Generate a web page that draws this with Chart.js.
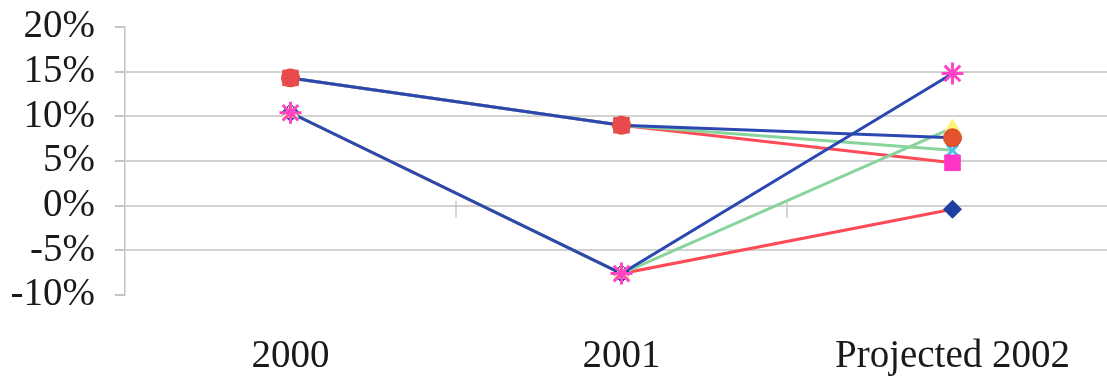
<!DOCTYPE html>
<html>
<head>
<meta charset="utf-8">
<script src="https://cdn.jsdelivr.net/npm/chart.js@4/dist/chart.umd.min.js"></script>
<style>
  html, body { margin: 0; padding: 0; background: #fff; overflow: hidden; }
  #chart { display: block; }
</style>
</head>
<body>
<canvas id="chart" width="1118" height="381"></canvas>
<script>
// Categories and growth rates (percent)
const categories = ['2000', '2001', 'Projected 2002'];

const seriesDiamond  = [10.4, -7.6, -0.4];
const seriesSquare   = [14.3,  9.0,  4.8];
const seriesTriangle = [10.4, -7.6,  8.7];
const seriesCross    = [14.3,  9.0,  6.2];
const seriesStar     = [10.4, -7.6, 14.8];
const seriesCircle   = [14.3,  9.0,  7.6];

const yTicks = [-10, -5, 0, 5, 10, 15, 20];

const BLUE = '#2a47b2';
const GREEN = '#88d49c';
const RED = '#ff4b57';
const FONT = "'Liberation Serif', 'Times New Roman', serif";

// Connecting lines, drawn first (blue on top)
function lineSet(data, color, order) {
  return {
    data: data,
    borderColor: color,
    borderWidth: 3,
    pointRadius: 0,
    tension: 0,
    fill: false,
    order: order
  };
}

// Marker-only sets, drawn above every line
function markerSet(data, style, fill, border, radius, order, bw) {
  return {
    data: data,
    showLine: false,
    pointStyle: style,
    pointRadius: radius,
    pointBackgroundColor: fill,
    pointBorderColor: border,
    pointBorderWidth: bw,
    order: order
  };
}

// Where the square sits over the circle the blend reads as red
const squareFill = ctx => ctx.dataIndex === 2 ? '#ff35c8' : '#e84a4e';

// Small tick marks on the zero line between categories
const zeroLineTicks = {
  id: 'zeroLineTicks',
  beforeDatasetsDraw(chart) {
    const x = chart.scales.x, y = chart.scales.y;
    const y0 = y.getPixelForValue(0);
    const ctx = chart.ctx;
    ctx.save();
    ctx.strokeStyle = '#c9c9c9';
    ctx.lineWidth = 1.5;
    for (let i = 0; i < categories.length - 1; i++) {
      const bx = (x.getPixelForTick(i) + x.getPixelForTick(i + 1)) / 2;
      ctx.beginPath();
      ctx.moveTo(bx, y0 - 5);
      ctx.lineTo(bx, y0 + 12);
      ctx.stroke();
    }
    ctx.restore();
  }
};

function noEdgePadding(s) {
  s.paddingTop = 0;
  s.paddingBottom = 0;
  s.paddingLeft = 0;
  s.paddingRight = 0;
}

new Chart(document.getElementById('chart'), {
  type: 'line',
  data: {
    labels: categories,
    datasets: [
      lineSet(seriesDiamond,  RED,   16),
      lineSet(seriesSquare,   RED,   15),
      lineSet(seriesTriangle, GREEN, 14),
      lineSet(seriesCross,    GREEN, 13),
      lineSet(seriesStar,     BLUE,  12),
      lineSet(seriesCircle,   BLUE,  11),
      markerSet(seriesDiamond,  'rectRot',  '#1d3f9f', '#1d3f9f', 9, 6, 1),
      markerSet(seriesTriangle, 'triangle', '#fff27a', '#fff27a', 9, 5, 1),
      markerSet(seriesCross,    'crossRot', '#45c4ee', '#45c4ee', 8, 4, 3),
      markerSet(seriesCircle,   'circle',   '#e2532e', '#d8482a', 9, 3, 1),
      markerSet(seriesSquare,   'rect',     squareFill, squareFill, 11, 2, 1),
      markerSet(seriesStar,     'star',     '#ff45c6', '#ff45c6', 11, 1, 3)
    ]
  },
  options: {
    responsive: false,
    animation: false,
    devicePixelRatio: 1,
    layout: { autoPadding: false, padding: { top: 27, left: 0, right: 0, bottom: 0 } },
    plugins: {
      legend: { display: false },
      title: { display: false },
      tooltip: { enabled: false }
    },
    scales: {
      x: {
        offset: true,
        grid: { display: false, drawTicks: false },
        border: { display: false },
        ticks: {
          color: '#1a1a1a',
          font: { family: FONT, size: 39 },
          padding: 38,
          maxRotation: 0,
          autoSkip: false
        },
        afterFit(s) { s.height = 86; noEdgePadding(s); }
      },
      y: {
        min: -10,
        max: 20,
        afterBuildTicks(s) { s.ticks = yTicks.map(v => ({ value: v })); },
        grid: {
          color: ctx => (ctx.tick && (ctx.tick.value === 20 || ctx.tick.value === -10)) ? 'rgba(0,0,0,0)' : '#d2d2d2',
          lineWidth: 2,
          tickColor: '#c4c4c4',
          tickLength: 10,
          drawTicks: true
        },
        border: { display: true, color: '#c4c4c4', width: 1.5 },
        ticks: {
          color: '#1a1a1a',
          font: { family: FONT, size: 39 },
          padding: 20,
          autoSkip: false,
          callback: v => v + '%'
        },
        afterFit(s) { s.width = 125; noEdgePadding(s); }
      }
    }
  },
  plugins: [zeroLineTicks]
});
</script>
</body>
</html>
